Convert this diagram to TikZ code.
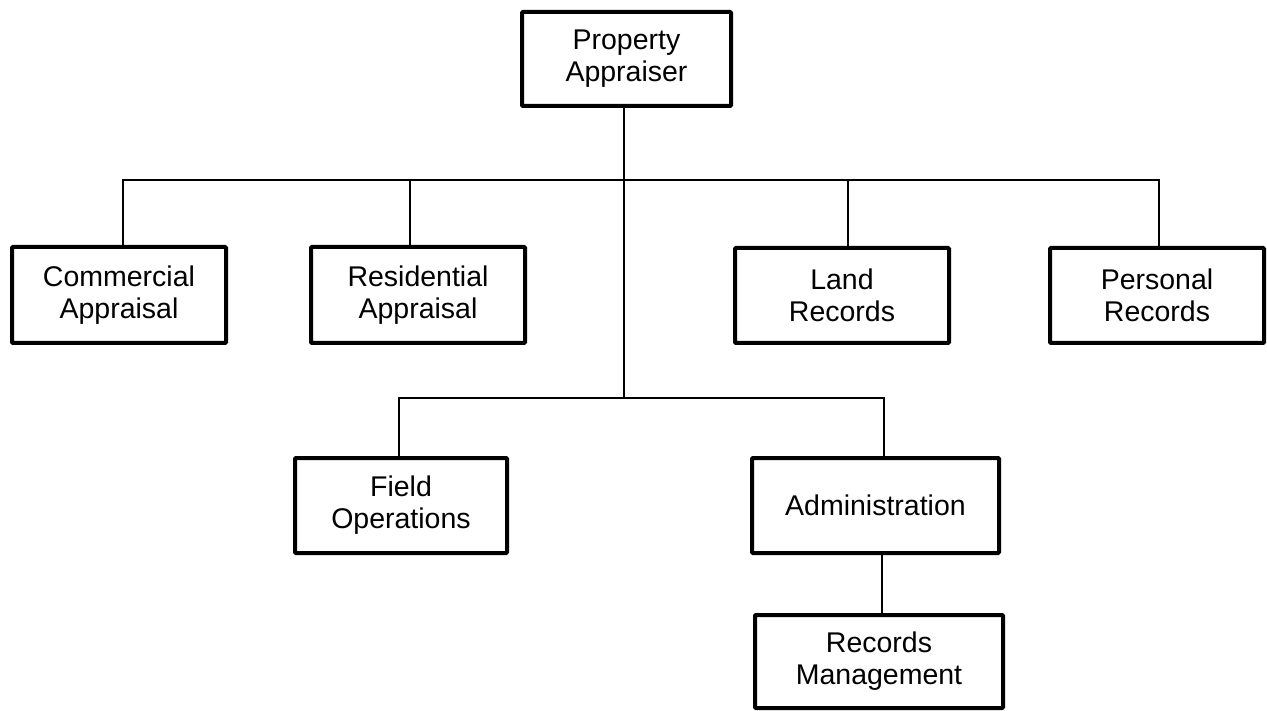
\documentclass[tikz,border=0pt]{standalone}
\usepackage{fontspec}
\setmainfont{Liberation Sans}
\begin{document}
\begin{tikzpicture}[x=1pt,y=-1pt,
  unit/.style={draw=black, line width=4pt, rounded corners=1pt, fill=white,
    inner sep=0pt, align=center, font=\fontsize{28.5}{32}\selectfont},
  link/.style={draw=black, line width=2pt}]
  \useasboundingbox (0,0) rectangle (1267,711);

  % offices
  \node[unit, minimum width=209pt, minimum height=94pt] (pa) at (626.5,59) {Property\\Appraiser};
  \node[unit, minimum width=214pt, minimum height=96pt] (ca) at (119,295) {Commercial\\Appraisal};
  \node[unit, minimum width=214pt, minimum height=96pt] (ra) at (418,295) {Residential\\Appraisal};
  \node[unit, minimum width=214pt, minimum height=95pt] (lr) at (842,295.5) {Land\\Records};
  \node[unit, minimum width=214pt, minimum height=95pt] (pr) at (1157,295.5) {Personal\\Records};
  \node[unit, minimum width=212pt, minimum height=95pt] (fo) at (401,505.5) {Field\\Operations};
  \node[unit, minimum width=247pt, minimum height=95pt] (ad) at (875.5,505.5) {Administration};
  \node[unit, minimum width=248pt, minimum height=93pt] (rm) at (879,661.5) {Records\\Management};

  % junction points of the trunk line
  \coordinate (hub) at (624,180);
  \coordinate (low) at (624,398);

  % where each branch meets its box
  \coordinate (ca-in) at ([xshift=4pt]ca.north);
  \coordinate (ra-in) at ([xshift=-8pt]ra.north);
  \coordinate (lr-in) at ([xshift=6pt]lr.north);
  \coordinate (pr-in) at ([xshift=2pt]pr.north);
  \coordinate (fo-in) at ([xshift=-2pt]fo.north);
  \coordinate (ad-in) at ([xshift=8pt]ad.north);
  \coordinate (rm-in) at ([xshift=3pt]rm.north);

  % trunk from the appraiser down to the lower bus
  \draw[link] (pa.south -| hub) -- (low);
  % upper bus
  \draw[link] (ca-in) |- (hub) -| (pr-in);
  \draw[link] (ra-in) -- (ra-in |- hub);
  \draw[link] (lr-in) -- (lr-in |- hub);
  % lower bus
  \draw[link] (fo-in) |- (low) -| (ad-in);
  % administration to records management
  \draw[link] (ad.south -| rm-in) -- (rm-in);
\end{tikzpicture}
\end{document}
